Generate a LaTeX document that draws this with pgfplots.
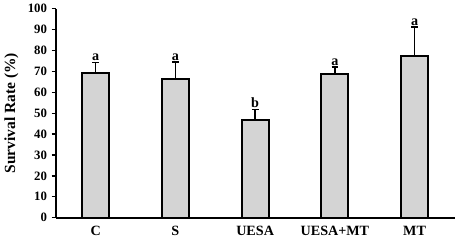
\documentclass[border=0pt]{standalone}
\usepackage{pgfplots}
\pgfplotsset{compat=1.18}
\usepackage{fontspec}
\setmainfont{Liberation Serif}
\begin{document}
\begin{tikzpicture}
\begin{axis}[
  scale only axis, width=296pt, height=155pt,
  xmin=-0.5, xmax=4.5, ymin=0, ymax=100,
  axis lines=left, axis line style={line width=1.5pt,-},
  xtick={0,1,2,3,4}, xticklabels={C,S,UESA,UESA+MT,MT},
  major x tick style={draw=none},
  extra x ticks={0.5,1.5,2.5,3.5,4.5}, extra x tick labels={},
  extra x tick style={tick style={line width=1pt,black}, major tick length=3pt},
  ytick={0,10,...,100},
  tick align=outside, major tick length=3pt,
  y tick style={line width=1pt,black},
  yticklabel style={font=\bfseries\fontsize{9.5}{11}\selectfont},
  xticklabel style={font=\bfseries\fontsize{10.5}{12}\selectfont, yshift=0pt},
  /pgf/number format/assume math mode=true,
  ylabel={Survival Rate (\%)}, ylabel style={font=\bfseries\fontsize{11.5}{13}\selectfont, yshift=0pt},
  clip=false,
]
\addplot[ybar, bar width=20pt, fill=black!17, draw=black, line width=1.5pt,
  error bars/.cd, y dir=plus, y explicit,
  error bar style={line width=1.2pt},
  error mark options={rotate=90, mark size=2.5pt, line width=1.2pt}]
  coordinates {(0,69.4) +- (0,4.8) (1,66.5) +- (0,8.1) (2,46.9) +- (0,4.8) (3,68.9) +- (0,3.3) (4,77.5) +- (0,13.9)};
\addplot[draw=none, mark=none, nodes near coords, point meta=explicit symbolic,
  nodes near coords style={font=\bfseries\fontsize{10.5}{12}\selectfont, anchor=south, inner sep=1pt}]
  coordinates {(0,74.2)[a] (1,74.6)[a] (2,51.7)[b] (3,72.2)[a] (4,91.4)[a]};
\end{axis}
\end{tikzpicture}
\end{document}
